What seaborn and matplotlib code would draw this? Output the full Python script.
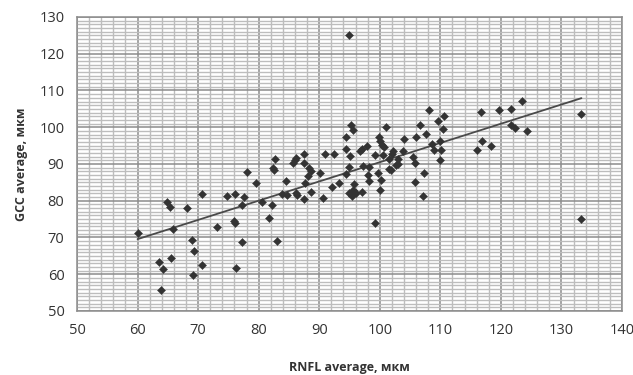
import numpy as np
import pandas as pd
import seaborn as sns
import matplotlib
matplotlib.use('Agg')
import matplotlib.pyplot as plt
import matplotlib.ticker as ticker

# values
rnfl = [60.0, 63.5, 64.2, 63.9, 64.9, 65.3, 65.5, 65.9, 68.1, 69.0, 69.4, 69.2,
        70.6, 70.6, 73.2, 74.8, 76.1, 75.9, 76.1, 76.2, 77.2, 77.2, 77.6, 78.0,
        79.5, 80.5, 81.7, 82.2, 83.1, 83.8, 84.5, 84.6, 86.2, 86.4, 87.5, 87.6,
        88.7, 82.7, 82.4, 82.6, 85.7, 86.0, 86.2, 87.5, 87.5, 88.3, 88.6, 88.2,
        90.2, 90.9, 92.5, 90.7, 92.1, 93.3, 94.9, 94.4, 95.3, 95.6, 94.5, 95.1,
        95.0, 94.4, 95.8, 95.0, 95.4, 96.0, 95.6, 96.8, 97.0, 97.9, 97.2, 98.3,
        98.1, 98.2, 97.0, 99.2, 99.7, 99.9, 100.1, 100.4, 100.7, 100.6, 100.2,
        100.0, 99.2, 101.1, 101.5, 101.5, 101.8, 102.2, 102.0, 102.7, 103.0,
        103.0, 103.8, 104.0, 105.5, 105.9, 106.0, 106.6, 107.7, 107.3, 105.9,
        107.2, 108.2, 108.7, 109.0, 109.7, 110.6, 110.4, 109.9, 110.1, 109.9,
        116.0, 116.8, 116.9, 118.3, 119.7, 121.7, 123.5, 121.7, 122.3, 124.3,
        133.2, 133.3]
gcc = [71.1, 63.4, 61.3, 55.7, 79.7, 78.4, 64.4, 72.3, 78.1, 69.3, 66.3, 59.9,
       81.7, 62.6, 72.8, 81.3, 81.9, 74.6, 73.9, 61.7, 68.9, 78.8, 81.1, 87.9,
       84.9, 79.7, 75.2, 78.8, 69.1, 81.7, 85.3, 81.6, 82.0, 81.6, 80.4, 84.8,
       82.5, 91.3, 89.0, 88.3, 90.2, 91.1, 91.6, 92.8, 90.3, 88.8, 88.2, 86.6,
       87.6, 92.7, 92.7, 80.7, 83.7, 84.9, 125.2, 97.4, 100.6, 99.3, 94.2, 92.1,
       89.1, 87.3, 84.6, 82.0, 81.3, 82.2, 82.9, 93.5, 94.0, 94.9, 89.4, 89.1,
       87.1, 85.4, 82.5, 92.5, 87.6, 97.3, 96.2, 95.3, 94.6, 92.5, 85.7,
       82.9, 73.9, 100.2, 91.3, 88.6, 88.4, 93.4, 92.8, 89.6, 91.4,
       90.0, 93.4, 96.7, 91.8, 90.4, 97.3, 100.7, 98.1, 87.5, 85.2,
       81.3, 104.7, 95.5, 93.8, 101.8, 103.1, 99.4, 96.2, 93.8, 91.1,
       93.8, 104.2, 96.3, 94.9, 104.7, 104.9, 107.2, 100.6, 99.9, 99.1,
       103.6, 75.1]

df = pd.DataFrame({'rnfl': rnfl, 'gcc': gcc})

sns.set_style('white')
plt.rcParams['font.family'] = ['Open Sans', 'DejaVu Sans']

fig = plt.figure(figsize=(6.33, 3.75), dpi=100)
ax = fig.add_axes([0.1216, 0.1707, 0.861, 0.784])

sns.scatterplot(x='rnfl', y='gcc', data=df, marker='D', s=17, color='#333333',
                edgecolor='#333333', linewidth=0.3, ax=ax, zorder=3)
sns.regplot(x='rnfl', y='gcc', data=df, scatter=False, ci=None, truncate=True,
            line_kws={'color': '#4a4a4a', 'linewidth': 1.3}, ax=ax)

ax.set_xlim(50, 140)
ax.set_ylim(50, 130)
ax.xaxis.set_major_locator(ticker.MultipleLocator(10))
ax.xaxis.set_minor_locator(ticker.MultipleLocator(2))
ax.yaxis.set_major_locator(ticker.MultipleLocator(10))
ax.yaxis.set_minor_locator(ticker.MultipleLocator(1))
ax.grid(which='major', color='#8c8c8c', linewidth=1.1, zorder=0)
ax.grid(which='minor', color='#bdbdbd', linewidth=1.0, zorder=0)
ax.set_axisbelow(True)

for s in ax.spines.values():
    s.set_color('#8c8c8c')
    s.set_linewidth(1.1)

ax.tick_params(which='major', direction='out', length=4, width=1, color='#8c8c8c',
               labelsize=10.5, labelcolor='#333333', pad=5)
ax.tick_params(which='minor', length=0)

ax.set_xlabel('RNFL average, мкм', fontsize=9, fontweight='bold', color='#333333', labelpad=16)
ax.set_ylabel('GCC average, мкм', fontsize=9, fontweight='bold', color='#333333', labelpad=8)

fig.savefig('out.png', dpi=100)
